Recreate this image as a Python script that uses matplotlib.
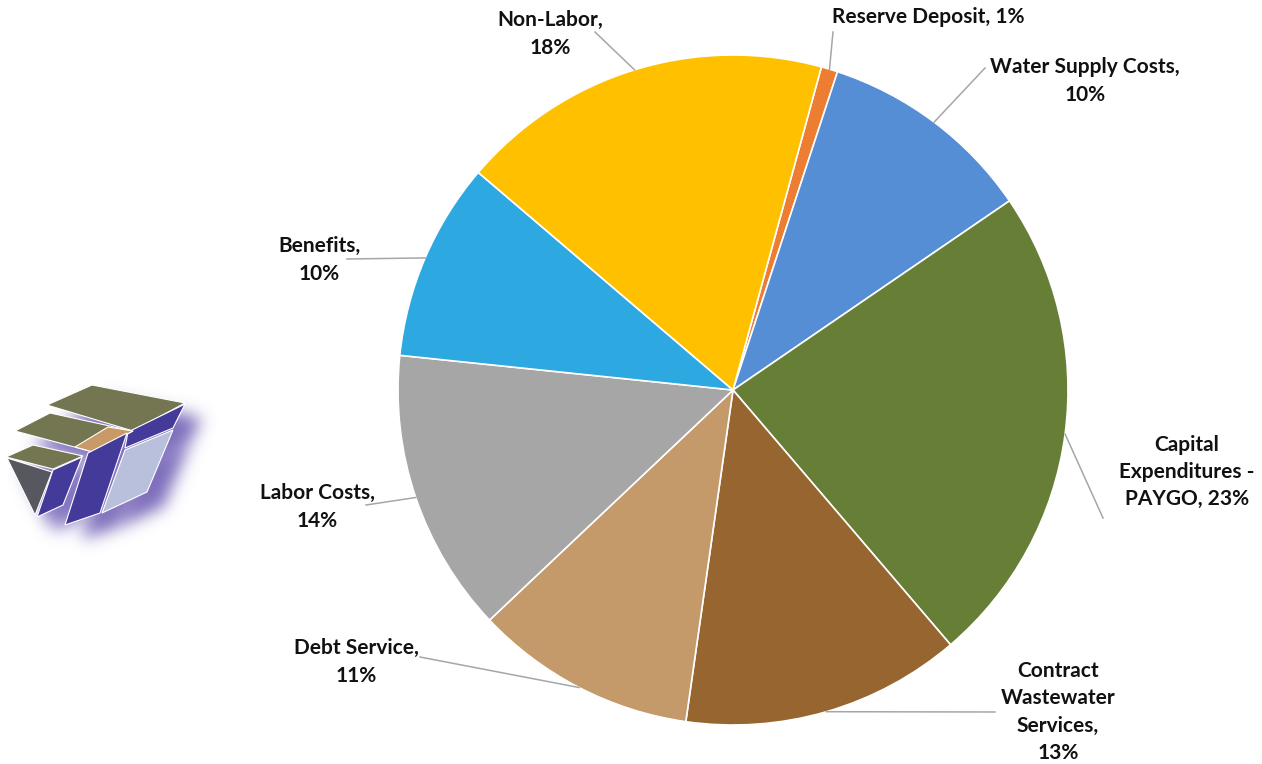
import numpy as np
import matplotlib.pyplot as plt
from matplotlib.patches import Polygon
from matplotlib.path import Path

# Data (clockwise from the top)
labels = ["Reserve Deposit, 1%", "Water Supply Costs,\n10%",
          "Capital\nExpenditures -\nPAYGO, 23%",
          "Contract\nWastewater\nServices,\n13%", "Debt Service,\n11%",
          "Labor Costs,\n14%", "Benefits,\n10%", "Non-Labor,\n18%"]
shares = [0.8, 10.4, 23.3, 13.5, 10.7, 13.7, 9.6, 18.0]
colors = ["#ED7D31", "#558ED5", "#677E36", "#97652F", "#C49A6A",
          "#A6A6A6", "#2EA8E0", "#FFC000"]

# label layout in pixels (y from top): text centre, elbow point
label_pos = [(928, 17), (1085, 81), (1187, 472), (1058, 712),
             (356, 662), (317, 507), (319, 260), (550, 34)]
elbows = [(833, 32), (985, 68), (1103, 518), (995, 712),
          (420, 657), (366, 505), (347, 259), (595, 32)]

W, H = 1262, 764
fig = plt.figure(figsize=(W / 100, H / 100), dpi=100)
ax = fig.add_axes([0, 0, 1, 1])

cx, cy, r = 733, H - 390, 335
wedges, _ = ax.pie(shares, colors=colors, startangle=74.7, counterclock=False,
                   center=(cx, cy), radius=r, frame=True,
                   wedgeprops=dict(edgecolor="white", linewidth=1.2))

for w, lab, (tx, ty), (ex, ey) in zip(wedges, labels, label_pos, elbows):
    mid = np.deg2rad((w.theta1 + w.theta2) / 2)
    px, py = cx + r * np.cos(mid), cy + r * np.sin(mid)
    ax.plot([px, ex], [py, H - ey], color="#A6A6A6", lw=1.1, zorder=1)
    ax.text(tx, H - ty, lab, ha="center", va="center", fontsize=15,
            fontweight="bold", family="Lato", color="#111111",
            linespacing=1.45)

# logo at the left
logo = [
    ([(47, 405), (92, 385), (185, 403), (133, 431)], "#737650"),
    ([(128, 432), (185, 404), (173, 428), (125, 448)], "#433A9A"),
    ([(125, 450), (173, 430), (147, 492), (102, 513)], "#B8C0DC"),
    ([(15, 431), (50, 413), (133, 431), (93, 452)], "#737650"),
    ([(75, 447), (108, 427), (133, 431), (93, 452)], "#C89A68"),
    ([(88, 453), (127, 433), (100, 513), (65, 525)], "#433A9A"),
    ([(6, 457), (33, 445), (83, 456), (53, 469)], "#737650"),
    ([(7, 458), (52, 472), (35, 515)], "#57575F"),
    ([(53, 470), (82, 457), (63, 505), (37, 517)], "#433A9A"),
]

# soft purple shadow: rasterise the logo shifted, then blur it
gx, gy = np.meshgrid(np.arange(0, 240), np.arange(360, 580))
pts = np.column_stack([gx.ravel(), gy.ravel()])
mask = np.zeros(gx.size)
for poly, _ in logo:
    shifted = [(x + 16, y + 14) for x, y in poly]
    mask = np.maximum(mask, Path(shifted).contains_points(pts))
mask = mask.reshape(gx.shape)
k = np.exp(-0.5 * (np.arange(-24, 25) / 8.0) ** 2)
k /= k.sum()
blur = np.apply_along_axis(lambda v: np.convolve(v, k, mode="same"), 0, mask)
blur = np.apply_along_axis(lambda v: np.convolve(v, k, mode="same"), 1, blur)
rgba = np.zeros(gx.shape + (4,))
rgba[..., :3] = np.array([0x6E, 0x5C, 0xB4]) / 255
rgba[..., 3] = np.clip(blur * 0.9, 0, 1)
ax.imshow(rgba, extent=(0, 240, H - 580, H - 360), origin="upper",
          zorder=2, interpolation="bilinear")

for poly, c in logo:
    ax.add_patch(Polygon([(x, H - y) for x, y in poly], closed=True,
                         facecolor=c, edgecolor="white", lw=0.8, zorder=3))

ax.set_xlim(0, W)
ax.set_ylim(0, H)
ax.set_aspect("equal")
ax.axis("off")
fig.savefig("out.png", dpi=100, facecolor="white")
